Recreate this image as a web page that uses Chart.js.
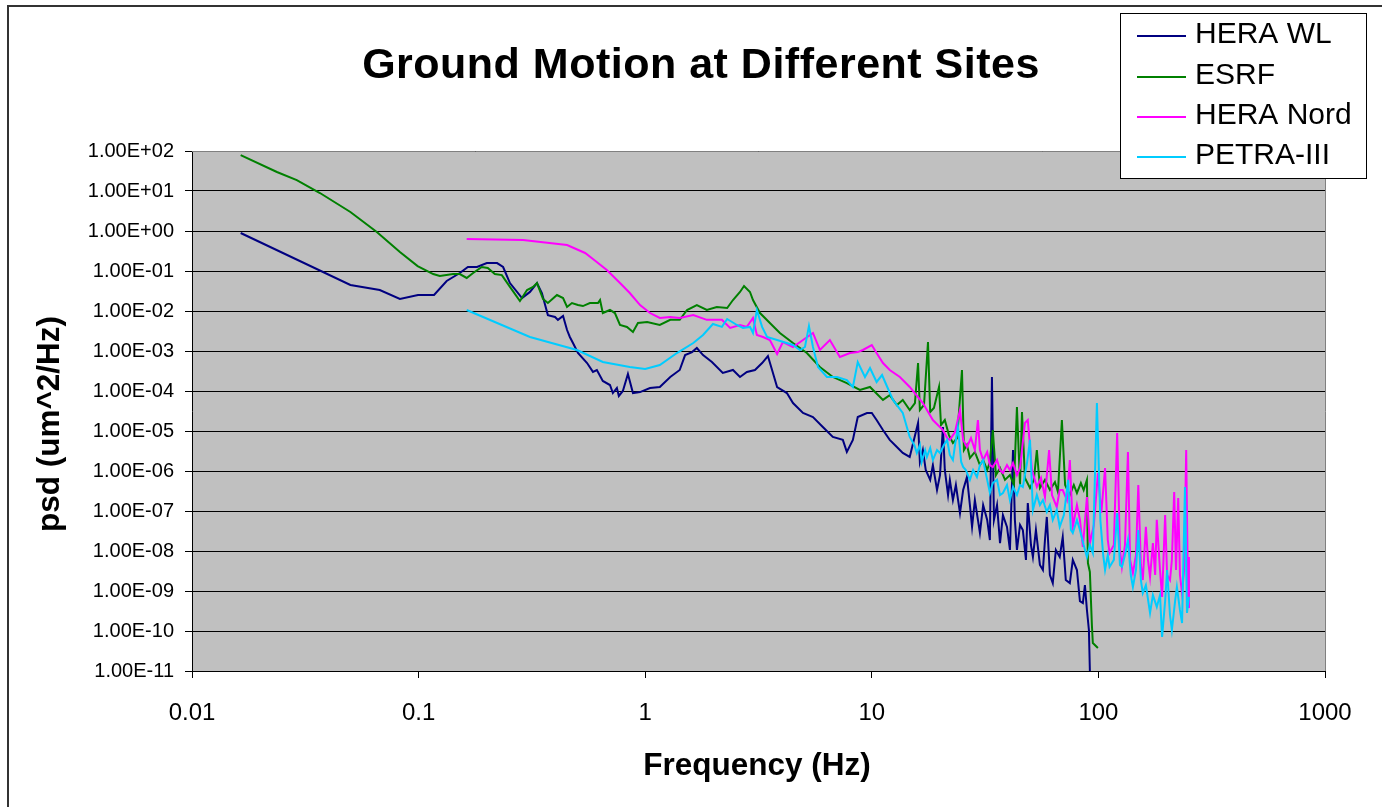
<!DOCTYPE html>
<html>
<head>
<meta charset="utf-8">
<script src="https://cdn.jsdelivr.net/npm/chart.js@4.4.1/dist/chart.umd.min.js"></script>
<style>
html,body{margin:0;padding:0;background:#fff;}
canvas{display:block;}
</style>
</head>
<body>
<canvas id="c" width="1382" height="807"></canvas>
<script>
const chartTitle = 'Ground Motion at Different Sites';
const xAxisTitle = 'Frequency (Hz)';
const yAxisTitle = 'psd (um^2/Hz)';
const seriesNames = ['HERA WL', 'ESRF', 'HERA Nord', 'PETRA-III'];
const seriesColors = ['#000080', '#008000', '#FF00FF', '#00CCFF'];

const xTickValues = [0.01, 0.1, 1, 10, 100, 1000];
const xTickLabels = ['0.01', '0.1', '1', '10', '100', '1000'];
const yTickValues = [1e-11, 1e-10, 1e-9, 1e-8, 1e-7, 1e-6, 1e-5, 1e-4, 1e-3, 1e-2, 1e-1, 1e0, 1e1, 1e2];
const yTickLabels = ['1.00E-11', '1.00E-10', '1.00E-09', '1.00E-08', '1.00E-07', '1.00E-06', '1.00E-05', '1.00E-04', '1.00E-03', '1.00E-02', '1.00E-01', '1.00E+00', '1.00E+01', '1.00E+02'];

// HERA WL
const freqHeraWL = [0.0164, 0.050, 0.0674, 0.0827, 0.0994, 0.117, 0.133, 0.152, 0.165, 0.181, 0.20, 0.222, 0.236, 0.253, 0.286, 0.310, 0.333, 0.350, 0.372, 0.400, 0.412, 0.434, 0.452, 0.465, 0.480, 0.505, 0.554, 0.588, 0.612, 0.650, 0.699, 0.720, 0.750, 0.765, 0.797, 0.839, 0.883, 0.949, 1.05, 1.16, 1.29, 1.42, 1.50, 1.61, 1.69, 1.80, 1.97, 2.20, 2.44, 2.62, 2.81, 3.05, 3.28, 3.48, 3.63, 3.82, 4.22, 4.49, 4.97, 5.50, 6.08, 6.73, 7.45, 7.76, 8.25, 8.67, 9.52, 10.0, 10.5, 11.2, 12.0, 12.9, 13.7, 14.7,
  16.0, 16.3, 16.8, 17.3, 18.1, 18.6, 19.4, 20.0, 20.6, 21.0, 21.7, 22.1, 22.8, 23.5, 24.5, 25.3, 26.3, 27.1, 27.7, 28.5, 29.4, 30.0, 31.0, 32.3, 33.2, 33.9, 34.6, 35.7, 36.8, 37.9, 39.5, 40.7, 42.0, 42.8, 43.7, 45.1, 46.4, 47.9, 48.8, 50.4, 51.4, 53.0, 55.2, 56.9, 58.1, 59.2, 61.1, 62.9, 64.9, 67.5, 69.6, 71.8, 74.8, 77.1, 80.4, 82.9, 85.4, 87.2, 89.0, 90.8, 91.7];
const psdHeraWL = [0.89, 0.0447, 0.0335, 0.020, 0.0251, 0.0251, 0.0562, 0.089, 0.126, 0.126, 0.158, 0.158, 0.126, 0.050, 0.0211, 0.030, 0.050, 0.0282, 0.0079, 0.0071, 0.0060, 0.0075, 0.00335, 0.00224, 0.00158, 8.9e-4, 5.0e-4, 3.0e-4, 3.35e-4, 1.78e-4, 1.41e-4, 8.9e-5, 1.19e-4, 7.5e-5, 1.0e-4, 2.66e-4, 8.9e-5, 9.4e-5, 1.19e-4, 1.26e-4, 2.24e-4, 3.35e-4, 7.9e-4, 9.4e-4, 1.19e-3, 7.9e-4, 5.3e-4, 2.82e-4, 3.35e-4, 2.24e-4, 3.0e-4, 3.35e-4, 5.0e-4, 7.5e-4, 3.35e-4, 1.26e-4, 8.9e-5, 5.0e-5, 2.82e-5, 2.24e-5, 1.26e-5, 7.1e-6, 6.0e-6, 3.0e-6, 6.0e-6, 2.24e-5, 2.82e-5, 2.82e-5, 1.88e-5, 1.06e-5, 6.0e-6, 4.0e-6, 2.82e-6, 2.24e-6,
  1.58e-5, 1.68e-6, 3.35e-6, 1.06e-6, 6.0e-7, 1.41e-6, 3.35e-7, 7.9e-7, 1.26e-5, 1.06e-6, 2.51e-7, 6.0e-7, 1.88e-7, 4.47e-7, 8.9e-8, 3.35e-7, 7.1e-7, 1.41e-7, 4.0e-8, 1.88e-7, 6.0e-8, 2.82e-8, 1.41e-7, 6.0e-8, 1.88e-8, 2.24e-4, 6.0e-8, 1.41e-7, 1.58e-8, 7.9e-8, 4.0e-8, 1.06e-8, 3.35e-6, 6.0e-8, 1.06e-8, 4.47e-8, 3.35e-8, 6.0e-9, 1.58e-7, 1.41e-8, 7.1e-9, 3.35e-8, 4.47e-9, 3.35e-9, 1.88e-8, 7.1e-8, 2.51e-9, 1.58e-9, 1.06e-8, 7.1e-9, 2.24e-8, 1.88e-9, 1.58e-9, 6.0e-9, 3.35e-9, 5.6e-10, 5.0e-10, 1.41e-9, 3.35e-10, 1.06e-10, 1e-11];

// ESRF
const freqESRF = [0.0164, 0.0237, 0.0290, 0.0367, 0.050, 0.0654, 0.0827, 0.099, 0.116, 0.124, 0.142, 0.152, 0.163, 0.174, 0.190, 0.202, 0.217, 0.233, 0.253, 0.280, 0.301, 0.320, 0.333, 0.354, 0.372, 0.408, 0.434, 0.452, 0.475, 0.505, 0.531, 0.570, 0.619, 0.632, 0.650, 0.699, 0.735, 0.774, 0.831, 0.883, 0.929, 1.02, 1.16, 1.29, 1.42, 1.53, 1.69, 1.87, 2.07, 2.30, 2.44, 2.62, 2.73, 2.90, 2.99, 3.21, 3.55, 3.93, 4.49, 5.17, 5.90, 6.73, 7.76, 8.86, 9.82,
  11.2, 12.0, 12.9, 13.7, 14.7, 15.5, 16.0, 16.3, 17.0, 17.7, 18.1, 18.8, 19.8, 20.2, 21.0, 21.9, 22.8, 23.8, 25.0, 25.5, 26.3, 27.1, 28.5, 30.0, 31.0, 32.3, 33.2, 34.2, 35.3, 36.8, 38.7, 40.7, 42.4, 43.7, 45.1, 46.0, 47.4, 49.9, 51.9, 53.5, 55.2, 58.1, 61.1, 64.3, 66.3, 69.0, 71.3, 74.8, 77.9, 80.4, 83.7, 86.1, 89.0, 89.9, 91.7, 93.6, 94.5, 99.5];
const psdESRF = [79, 29.9, 18.8, 8.9, 2.99, 0.944, 0.299, 0.133, 0.084, 0.075, 0.084, 0.084, 0.067, 0.089, 0.126, 0.119, 0.084, 0.079, 0.040, 0.0178, 0.0335, 0.040, 0.050, 0.020, 0.0158, 0.0251, 0.0211, 0.0126, 0.0158, 0.0141, 0.0133, 0.0158, 0.0158, 0.0188, 0.0089, 0.0106, 0.0089, 0.00447, 0.0040, 0.0030, 0.0050, 0.0053, 0.00447, 0.0060, 0.0060, 0.0106, 0.0141, 0.0106, 0.0126, 0.0119, 0.0188, 0.0299, 0.0422, 0.0299, 0.0188, 0.0089, 0.0050, 0.00282, 0.00158, 8.9e-4, 4.0e-4, 2.24e-4, 1.58e-4, 1.06e-4, 1.26e-4,
  6.0e-5, 7.9e-5, 4.47e-5, 6.0e-5, 3.35e-5, 5.0e-5, 5.0e-4, 3.35e-5, 4.47e-5, 1.68e-3, 2.99e-5, 3.76e-5, 1.26e-4, 1.41e-5, 1.88e-5, 7.9e-6, 5.0e-6, 6.68e-6, 3.35e-4, 3.35e-6, 4.47e-6, 2.11e-6, 2.99e-6, 1.41e-6, 1.88e-6, 1.06e-6, 1.68e-6, 1.06e-5, 7.9e-7, 1.19e-6, 6.0e-7, 7.9e-7, 4.47e-7, 4.0e-5, 4.47e-7, 2.99e-5, 6.68e-7, 3.76e-7, 6.0e-7, 3.35e-6, 3.76e-7, 6.0e-7, 3.35e-7, 5.3e-7, 2.99e-7, 1.88e-5, 4.47e-7, 2.51e-7, 4.47e-7, 2.82e-7, 5.0e-7, 3.35e-7, 6.0e-7, 5.0e-9, 2.99e-9, 1.41e-10, 5.0e-11, 3.76e-11];

// HERA Nord
const freqHeraNord = [0.163, 0.289, 0.452, 0.543, 0.588, 0.677, 0.774, 0.855, 0.949, 1.05, 1.16, 1.29, 1.42, 1.63, 1.87, 2.18, 2.37, 2.62, 2.81, 2.99, 3.11, 3.31, 3.55, 3.82, 4.05, 4.49, 4.97, 5.50, 5.90, 6.53, 7.23, 8.01, 8.67, 9.13, 10.0, 10.5, 11.2, 12.0, 13.3, 14.7, 16.8, 18.6,
  20.6, 21.5, 22.1, 23.3, 24.5, 25.3, 26.3, 27.4, 28.5, 29.4, 30.0, 31.0, 32.3, 33.2, 34.2, 35.7, 36.8, 37.9, 39.5, 40.7, 42.0, 43.7, 45.1, 47.4, 48.8, 50.9, 52.4, 53.5, 55.8, 58.1, 60.6, 62.4, 65.5, 67.5, 69.6, 72.6, 74.8, 77.1, 80.4, 82.9, 85.4, 89.0, 91.7, 95.5, 99.5, 103, 107, 110, 112, 117, 121, 124.5, 127, 131, 135, 138, 142, 146.5, 150, 154, 157, 162, 165.5, 169, 174, 178, 181, 187, 191, 197, 201, 207, 211, 216, 220, 225, 229, 234, 239, 244, 249, 251];
const psdHeraNord = [0.631, 0.596, 0.447, 0.282, 0.200, 0.106, 0.050, 0.0282, 0.0141, 0.0089, 0.00668, 0.0071, 0.00668, 0.0079, 0.0060, 0.0060, 0.00376, 0.00447, 0.0040, 0.00668, 0.00251, 0.00224, 0.00188, 8.4e-4, 0.00168, 0.00126, 0.00188, 0.00282, 0.00106, 0.00188, 7.1e-4, 8.9e-4, 9.4e-4, 0.00106, 0.00141, 8.9e-4, 5.0e-4, 3.35e-4, 2.24e-4, 1.26e-4, 5.0e-5, 1.88e-5,
  1.06e-5, 6.68e-6, 6.0e-6, 9.44e-6, 3.35e-5, 6.0e-6, 4.0e-6, 6.68e-6, 3.35e-6, 1.88e-5, 3.35e-6, 1.88e-6, 2.99e-6, 1.41e-6, 1.26e-6, 1.88e-6, 1.06e-6, 8.9e-7, 1.41e-6, 1.06e-6, 1.58e-6, 7.9e-7, 1.19e-6, 1.58e-5, 1.88e-5, 1.06e-6, 6.0e-7, 4.0e-7, 6.68e-7, 2.24e-7, 3.35e-6, 2.51e-7, 1.26e-7, 3.35e-7, 3.35e-7, 1.88e-7, 1.88e-6, 4.0e-8, 1.41e-7, 6.0e-8, 1.26e-8, 2.24e-7, 1.58e-8, 4.47e-8, 8.9e-7, 8.9e-8, 1.19e-6, 1.88e-8, 8.9e-9, 1.41e-8, 8.9e-6, 1.06e-8, 4.0e-9, 1.41e-8, 2.99e-6, 6.0e-9, 2.82e-9, 7.9e-9, 4.47e-7, 4.47e-9, 1.88e-9, 4.0e-8, 6.0e-9, 2.24e-9, 1.58e-8, 2.51e-9, 6.0e-8, 3.35e-9, 7.1e-10, 7.9e-8, 2.51e-9, 1.88e-9, 6.0e-9, 2.99e-7, 3.35e-9, 2.11e-7, 2.51e-9, 8.9e-10, 3.35e-9, 3.35e-6, 4.0e-10, 7.1e-9];

// PETRA-III
const freqPetra = [0.163, 0.310, 0.50, 0.650, 0.855, 1.0, 1.16, 1.38, 1.63, 1.80, 1.99, 2.18, 2.30, 2.54, 2.70, 2.90, 2.99, 3.11, 3.28, 3.45, 3.82, 4.49, 4.82, 5.07, 5.28, 5.50, 5.79, 6.34, 7.02, 7.76, 8.25, 8.67, 9.33, 9.82, 10.5, 11.1, 11.7, 12.4, 13.7,
  14.7, 15.4, 15.8, 16.3, 16.6, 17.2, 17.5, 18.1, 18.6, 19.4, 20.0, 20.8, 21.5, 22.1, 22.8, 23.3, 24.0, 24.8, 25.3, 26.0, 27.1, 28.0, 29.1, 30.0, 31.0, 32.3, 33.2, 34.2, 35.7, 36.8, 37.9, 39.5, 40.7, 42.0, 43.7, 45.1, 46.4, 48.4, 49.9, 51.4, 53.5, 55.2, 56.9, 59.2, 61.1, 62.9, 65.5, 67.5, 70.4, 73.5, 75.6, 77.1, 80.4, 82.9, 86.1, 89.0, 91.7, 94.5, 98.5, 102, 105, 107, 110, 112, 117, 121, 124.5, 127, 131, 135, 139, 142, 146.5, 150, 154, 157, 162, 169, 174, 181, 187, 191, 197, 201, 207, 211, 218, 222, 229, 234, 241, 246, 251];
const psdPetra = [0.0106, 0.00224, 0.00106, 5.3e-4, 4.0e-4, 3.55e-4, 4.47e-4, 8.9e-4, 0.00158, 0.00251, 0.00473, 0.0040, 0.00631, 0.00447, 0.00376, 0.0040, 0.00282, 0.0106, 0.0040, 0.00224, 0.00188, 0.00141, 0.00106, 0.00126, 0.00422, 0.00126, 4.0e-4, 2.24e-4, 2.24e-4, 1.88e-4, 1.26e-4, 5.3e-4, 2.24e-4, 3.76e-4, 1.68e-4, 2.51e-4, 1.26e-4, 6.0e-5, 2.82e-5,
  7.1e-6, 4.47e-6, 2.82e-6, 4.47e-6, 1.68e-6, 3.35e-6, 2.24e-6, 3.76e-6, 1.88e-6, 3.35e-6, 2.82e-6, 4.47e-6, 6.0e-6, 2.51e-6, 1.88e-6, 4.47e-6, 1.26e-5, 1.68e-6, 1.26e-6, 1.06e-6, 6.0e-7, 1.06e-6, 7.1e-7, 1.41e-6, 1.88e-6, 6.0e-7, 2.82e-7, 5.0e-7, 6.0e-7, 2.51e-7, 2.82e-7, 4.47e-7, 1.88e-7, 4.0e-7, 2.51e-7, 4.47e-7, 4.0e-7, 1.58e-6, 6.0e-6, 1.06e-7, 2.51e-7, 1.41e-7, 1.88e-7, 9.44e-8, 1.41e-7, 6.0e-8, 1.06e-7, 4.0e-8, 7.9e-8, 6.0e-7, 3.35e-8, 2.82e-8, 6.0e-8, 3.35e-8, 1.41e-8, 7.1e-9, 1.41e-8, 8.9e-9, 5.0e-5, 6.0e-8, 7.9e-9, 3.35e-9, 7.9e-9, 4.0e-9, 6.0e-9, 8.9e-8, 4.47e-9, 4.0e-9, 7.9e-9, 1.88e-8, 2.51e-9, 1.26e-9, 3.35e-9, 3.35e-8, 1.88e-9, 8.9e-10, 1.41e-9, 2.82e-10, 7.9e-10, 4.0e-10, 7.9e-10, 7.1e-11, 5.6e-10, 3.35e-9, 2.51e-10, 1.06e-10, 5.6e-10, 1.26e-9, 3.35e-10, 1.58e-10, 4.0e-7, 2.82e-10, 7.1e-10];

const allFreq = [freqHeraWL, freqESRF, freqHeraNord, freqPetra];
const allPsd = [psdHeraWL, psdESRF, psdHeraNord, psdPetra];

const FONT = '"Liberation Sans", Arial, sans-serif';

const datasets = seriesNames.map((name, i) => ({
  label: name,
  data: allFreq[i].map((f, k) => ({ x: f, y: allPsd[i][k] })),
  borderColor: seriesColors[i],
  backgroundColor: seriesColors[i],
  borderWidth: 2,
  pointRadius: 0,
  tension: 0,
  fill: false,
  order: seriesNames.length - i
}));

const decor = {
  id: 'decor',
  beforeDraw(chart) {
    const ctx = chart.ctx;
    const a = chart.chartArea;
    ctx.save();
    ctx.fillStyle = '#ffffff';
    ctx.fillRect(0, 0, chart.width, chart.height);
    ctx.fillStyle = '#C0C0C0';
    ctx.fillRect(a.left, a.top, a.right - a.left, a.bottom - a.top);
    ctx.restore();
  },
  afterDraw(chart) {
    const ctx = chart.ctx;
    const a = chart.chartArea;
    ctx.save();
    ctx.strokeStyle = '#808080';
    ctx.lineWidth = 1;
    ctx.beginPath();
    ctx.moveTo(a.left, a.top + 0.5);
    ctx.lineTo(a.right + 0.5, a.top + 0.5);
    ctx.lineTo(a.right + 0.5, a.bottom);
    ctx.stroke();
    ctx.strokeStyle = '#333333';
    ctx.lineWidth = 2;
    ctx.beginPath();
    ctx.moveTo(8, chart.height);
    ctx.lineTo(8, 6);
    ctx.lineTo(chart.width, 6);
    ctx.stroke();
    ctx.fillStyle = '#000';
    ctx.font = 'bold 43px ' + FONT;
    ctx.textAlign = 'center';
    ctx.textBaseline = 'alphabetic';
    if ('letterSpacing' in ctx) ctx.letterSpacing = '0.5px';
    ctx.fillText(chartTitle, 701, 78);
    if ('letterSpacing' in ctx) ctx.letterSpacing = '0px';
    ctx.font = 'bold 31.5px ' + FONT;
    ctx.textBaseline = 'middle';
    ctx.fillText(xAxisTitle, 757, 766);
    ctx.save();
    ctx.translate(50, 424);
    ctx.rotate(-Math.PI / 2);
    ctx.fillText(yAxisTitle, 0, 0);
    ctx.restore();
    ctx.fillStyle = '#fff';
    ctx.fillRect(1120, 13, 246, 165);
    ctx.strokeStyle = '#000';
    ctx.lineWidth = 1;
    ctx.strokeRect(1120.5, 13.5, 246, 165);
    const ys = [35, 76, 116, 156];
    ctx.font = '30px ' + FONT;
    ctx.textAlign = 'left';
    ctx.textBaseline = 'middle';
    seriesNames.forEach((n, i) => {
      ctx.strokeStyle = seriesColors[i];
      ctx.lineWidth = 2;
      ctx.beginPath();
      ctx.moveTo(1137, ys[i] + 1);
      ctx.lineTo(1186, ys[i] + 1);
      ctx.stroke();
      ctx.fillStyle = '#000';
      ctx.fillText(n, 1195, ys[i]);
    });
    ctx.restore();
  }
};

new Chart(document.getElementById('c'), {
  type: 'line',
  data: { datasets },
  plugins: [decor],
  options: {
    responsive: false,
    devicePixelRatio: 1,
    animation: false,
    layout: { padding: { left: 0, top: 151, right: 57, bottom: 0 } },
    plugins: { legend: { display: false }, title: { display: false }, tooltip: { enabled: false } },
    scales: {
      x: {
        type: 'logarithmic',
        position: 'bottom',
        min: 0.01,
        max: 1000,
        afterFit(s) { s.height = 136; },
        afterBuildTicks(s) { s.ticks = xTickValues.map(v => ({ value: v })); },
        ticks: {
          autoSkip: false,
          maxRotation: 0,
          padding: 21,
          color: '#000',
          font: { family: FONT, size: 24 },
          callback(v) { const i = xTickValues.findIndex(t => Math.abs(Math.log10(t) - Math.log10(v)) < 1e-6); return i >= 0 ? xTickLabels[i] : ''; }
        },
        grid: { drawOnChartArea: false, drawTicks: true, tickLength: 7, tickColor: '#000', color: '#000' },
        border: { display: true, color: '#000', width: 1 }
      },
      y: {
        type: 'logarithmic',
        position: 'left',
        min: 1e-11,
        max: 100,
        afterFit(s) { s.width = 192; },
        afterBuildTicks(s) { s.ticks = yTickValues.map(v => ({ value: v })); },
        ticks: {
          autoSkip: false,
          padding: 11,
          color: '#000',
          font: { family: FONT, size: 20 },
          callback(v) { const i = yTickValues.findIndex(t => Math.abs(Math.log10(t) - Math.log10(v)) < 1e-6); return i >= 0 ? yTickLabels[i] : ''; }
        },
        grid: { drawOnChartArea: true, drawTicks: true, tickLength: 7, color: '#000', tickColor: '#000', lineWidth: 1 },
        border: { display: true, color: '#000', width: 1 }
      }
    }
  }
});
</script>
</body>
</html>
